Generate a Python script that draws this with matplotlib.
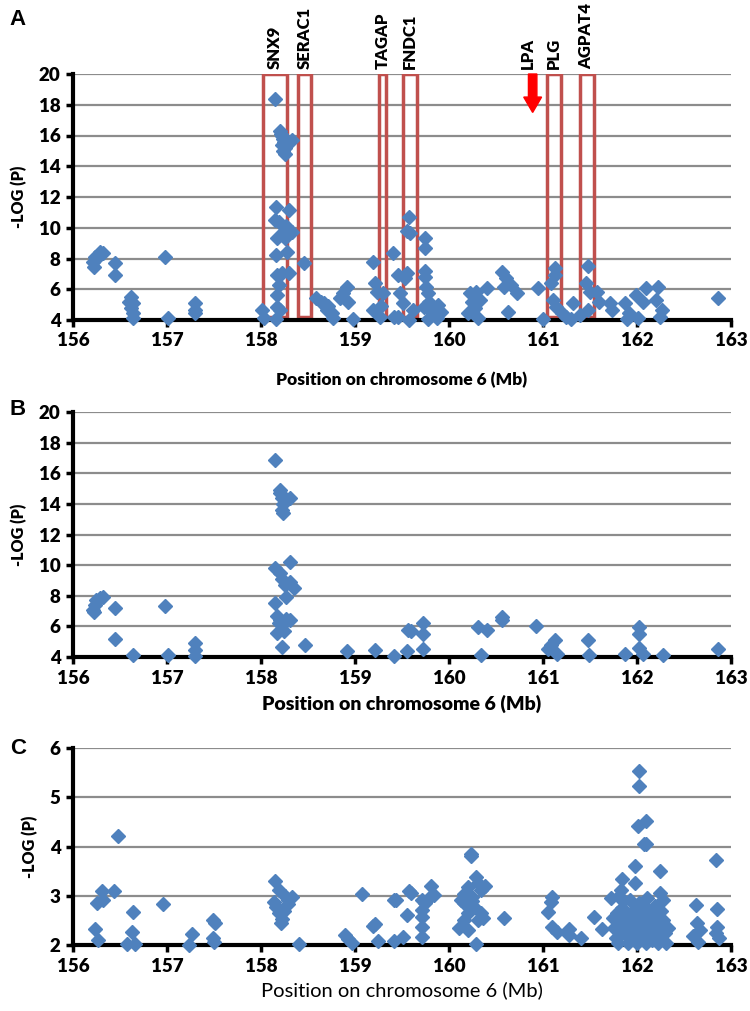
import matplotlib.pyplot as plt
from matplotlib.patches import Rectangle, FancyArrow

# ---- data (Mb, -log P) ----
a_pos = [156.21, 156.22, 156.23, 156.24, 156.29, 156.32, 156.45, 156.45, 156.60, 156.62, 156.62, 156.64,
         156.64, 156.64, 156.98, 157.01, 157.30, 157.30, 157.30,
         158.01, 158.03, 158.16, 158.17, 158.20, 158.17, 158.19, 158.22, 158.17, 158.30, 158.16, 158.28,
         158.17, 158.26, 158.33, 158.19, 158.15, 158.24, 158.27, 158.16, 158.30, 158.15,
         158.20, 158.21, 158.22, 158.23, 158.24, 158.22, 158.25, 158.23, 158.26, 158.33,
         158.46, 158.59, 158.64, 158.67, 158.71, 158.75, 158.77, 158.70, 158.91, 158.87, 158.84, 158.93,
         158.98, 159.19, 159.21, 159.23, 159.19, 159.40, 159.46, 159.42, 159.30, 159.28, 159.27,
         159.57, 159.58, 159.55, 159.74, 159.74, 159.55, 159.53, 159.74, 159.74, 159.76, 159.78, 159.79,
         159.73, 159.83, 159.88, 159.92, 159.87, 159.48, 159.51, 159.46, 159.57, 159.62, 159.78,
         160.22, 160.29, 160.24, 160.33, 160.20, 160.31, 160.28, 160.40,
         160.56, 160.61, 160.66, 160.72, 160.63, 160.59, 160.95, 161.00,
         161.13, 161.13, 161.08, 161.11, 161.14, 161.20, 161.25, 161.32, 161.30, 161.39, 161.48, 161.46,
         161.50, 161.57, 161.60, 161.48, 161.71, 161.73, 161.87, 161.91, 162.01, 161.99, 162.10, 162.06,
         162.22, 162.20, 162.24, 162.27, 161.89, 162.86]
a_val = [7.8, 7.47, 8.12, 8.0, 8.45, 8.34, 7.69, 6.93, 5.2, 5.52, 4.77, 5.09,
         4.43, 4.1, 8.12, 4.1, 5.09, 4.43, 4.65,
         4.65, 4.1, 4.05, 4.87, 4.65, 5.63, 6.28, 7.04, 6.93, 7.04, 8.23, 8.45,
         9.32, 9.32, 9.75, 10.4, 10.5, 9.82, 10.1, 11.34, 11.16, 18.4,
         16.3, 16.1, 16.0, 15.8, 15.6, 15.4, 15.2, 15.0, 14.8, 15.7,
         7.69, 5.41, 5.2, 5.1, 4.9, 4.43, 4.1, 4.65, 6.17, 5.74, 5.4, 5.2,
         4.05, 7.8, 6.4, 5.8, 4.65, 8.34, 6.9, 4.2, 5.74, 4.9, 4.2,
         10.73, 9.65, 9.8, 9.32, 8.67, 7.04, 6.7, 7.2, 6.8, 6.17, 5.74, 5.2,
         4.87, 4.43, 4.98, 4.55, 4.1, 5.74, 5.09, 4.2, 4.0, 4.65, 4.05,
         5.74, 5.85, 5.2, 5.3, 4.43, 4.1, 4.77, 6.06,
         7.15, 6.7, 6.28, 5.74, 4.55, 6.17, 6.06, 4.05,
         7.37, 6.93, 6.4, 5.3, 4.87, 4.43, 4.2, 5.09, 4.05, 4.3, 7.5, 6.4,
         5.85, 5.85, 5.2, 4.65, 5.09, 4.65, 5.09, 4.43, 4.1, 5.63, 6.06, 5.2,
         6.17, 5.3, 4.2, 4.65, 4.05, 5.4]

b_pos = [156.22, 156.23, 156.29, 156.32, 156.24, 156.21, 156.45, 156.45, 156.64, 156.98, 157.01,
         157.30, 157.30, 157.30,
         158.15, 158.20, 158.22, 158.23, 158.22, 158.31, 158.20, 158.23, 158.15, 158.20, 158.22, 158.26,
         158.31, 158.31, 158.35, 158.27, 158.15, 158.17, 158.27, 158.20, 158.26, 158.31, 158.19,
         158.17, 158.24, 158.22, 158.47, 158.91, 159.21, 159.41,
         159.55, 159.56, 159.60, 159.72, 159.72, 159.72, 160.31, 160.34, 160.40, 160.56, 160.56, 160.93,
         161.05, 161.08, 161.13, 161.15, 161.48, 161.49, 161.87, 162.02, 162.02, 162.02, 162.06,
         162.28, 162.86]
b_val = [6.96, 7.4, 7.84, 7.95, 7.7, 7.1, 7.18, 5.16, 4.13, 7.33, 4.13,
         4.93, 4.45, 4.05,
         16.88, 14.9, 14.4, 14.0, 13.6, 14.37, 14.7, 13.4, 9.8, 9.5, 9.1, 8.7,
         8.9, 10.2, 8.5, 7.9, 7.5, 6.7, 6.5, 6.4, 6.3, 6.4, 6.2,
         5.55, 5.7, 4.67, 4.78, 4.36, 4.47, 4.05,
         4.4, 5.76, 5.7, 6.2, 5.5, 4.5, 5.96, 4.1, 5.75, 6.4, 6.6, 6.0,
         4.5, 4.8, 5.1, 4.2, 5.1, 4.1, 4.2, 5.96, 5.5, 4.6, 4.2,
         4.1, 4.5]

c_pos = [156.48, 156.31, 156.25, 156.32, 156.44, 156.23, 156.27, 156.64, 156.63, 156.57, 156.66,
         156.96, 157.27, 157.23, 157.49, 157.51, 157.49, 157.50,
         158.15, 158.19, 158.26, 158.33, 158.29, 158.16, 158.19, 158.22, 158.21, 158.14, 158.24, 158.29,
         158.40, 158.89, 158.97, 158.93, 159.07, 159.21, 159.19, 159.24, 159.41, 159.41,
         159.44, 159.51, 159.55, 159.57, 159.60, 159.71, 159.71, 159.71, 159.71, 159.71, 159.74,
         159.81, 159.84, 159.79,
         160.23, 160.23, 160.29, 160.31, 160.20, 160.16, 160.25, 160.34, 160.38, 160.16, 160.27, 160.20,
         160.34, 160.16, 160.31, 160.11, 160.20, 160.36, 160.29, 160.13, 160.24, 160.59,
         161.10, 161.08, 161.05, 161.10, 161.15, 161.28, 161.28, 161.40, 161.54, 161.63,
         161.72, 161.84, 161.79, 161.83, 161.98, 161.98, 162.07, 162.24, 162.25, 162.28, 161.93, 162.03,
         162.02, 162.02, 162.01, 162.10, 162.10,
         161.75, 161.76, 161.78, 161.80, 161.82, 161.84, 161.86, 161.88, 161.90, 161.92, 161.95,
         161.96, 161.98, 162.00, 162.00, 162.02, 162.03, 162.04, 162.05, 162.06, 162.08, 162.09,
         162.10, 162.12, 162.13, 162.15, 162.16, 162.18, 162.19, 162.21, 162.22, 162.24, 162.25,
         162.26, 162.28, 162.30, 162.31, 162.33, 161.85, 162.11, 161.81,
         162.63, 162.64, 162.60, 162.67, 162.65, 162.84, 162.85, 162.85, 162.87, 162.84]
c_val = [4.22, 3.1, 2.85, 2.92, 3.09, 2.32, 2.1, 2.66, 2.27, 2.03, 2.03,
         2.84, 2.22, 2.0, 2.51, 2.45, 2.14, 2.07,
         3.29, 3.12, 3.0, 2.97, 2.84, 2.78, 2.65, 2.52, 2.45, 2.88, 2.7, 2.92,
         2.03, 2.2, 2.05, 2.13, 3.04, 2.43, 2.38, 2.08, 2.92, 2.08,
         2.92, 2.17, 2.61, 3.09, 3.05, 2.92, 2.71, 2.57, 2.37, 2.16, 2.86,
         3.19, 3.02, 2.95,
         3.84, 3.8, 3.39, 3.26, 3.18, 3.04, 2.98, 3.12, 3.19, 2.86, 2.78, 2.65,
         2.65, 2.51, 2.51, 2.34, 2.3, 2.55, 2.03, 2.92, 2.89, 2.54,
         2.98, 2.88, 2.67, 2.37, 2.27, 2.33, 2.2, 2.14, 2.57, 2.33,
         2.95, 3.33, 2.65, 3.12, 3.61, 3.26, 4.06, 3.5, 3.06, 2.92, 2.92, 2.8,
         5.54, 5.23, 4.41, 4.52, 4.06,
         2.55, 2.35, 2.15, 2.05, 2.45, 2.75, 2.25, 2.6, 2.05, 2.4, 2.15,
         2.7, 2.5, 2.3, 2.05, 2.85, 2.6, 2.15, 2.4, 2.75, 2.2, 2.55,
         2.05, 2.35, 2.7, 2.5, 2.1, 2.3, 2.8, 2.6, 2.05, 2.4, 2.15,
         2.7, 2.5, 2.25, 2.05, 2.35, 2.9, 2.95, 3.0,
         2.82, 2.45, 2.18, 2.31, 2.06, 3.73, 2.73, 2.37, 2.14, 2.25]

genes = ['SNX9', 'SERAC1', 'TAGAP', 'FNDC1', 'PLG', 'AGPAT4']
gene_start = [158.02, 158.39, 159.25, 159.51, 161.04, 161.39]
gene_end = [158.28, 158.53, 159.33, 159.66, 161.19, 161.54]
lpa_pos = 160.89

W, H = 750, 1011
fig = plt.figure(figsize=(W / 100, H / 100), dpi=100)
FONT = ['Lato', 'DejaVu Sans']
blue = '#4F81BD'


def px_axes(x0, y0, x1, y1):
    return fig.add_axes([x0 / W, 1 - y1 / H, (x1 - x0) / W, (y1 - y0) / H])


def style(ax, ymin, ymax, ystep):
    ax.set_xlim(156, 163)
    ax.set_ylim(ymin, ymax)
    ax.set_xticks(range(156, 164))
    ax.set_yticks(range(ymin, ymax + 1, ystep))
    ax.grid(axis='y', color='#8C8C8C', lw=1.6)
    ax.set_axisbelow(True)
    for s in ['top', 'right']:
        ax.spines[s].set_visible(False)
    for s in ['left', 'bottom']:
        ax.spines[s].set_linewidth(3)
        ax.spines[s].set_zorder(2.5)
    ax.tick_params(direction='out', length=5, width=2.5, pad=4)
    for lab in ax.get_xticklabels() + ax.get_yticklabels():
        lab.set_fontfamily(FONT)
        lab.set_fontweight('heavy')
        lab.set_fontsize(13.5)
    ax.set_ylabel('-LOG (P)', family=FONT, weight='heavy', fontsize=11.5, labelpad=8)


def draw_points(ax, xs, ys):
    ax.plot(xs, ys, 'D', color=blue, ms=6.8, mec=blue, clip_on=False, zorder=3)


# ---- panel A ----
axA = px_axes(73, 74, 731, 320)
style(axA, 4, 20, 2)
for g, s, e in zip(genes, gene_start, gene_end):
    axA.add_patch(Rectangle((s, 4.2), e - s, 15.8, fill=False, ec='#C0504D', lw=2.5, zorder=2))
    axA.text((s + e) / 2, 20.3, g, rotation=90, ha='center', va='bottom', family=FONT,
             weight='heavy', fontsize=12, clip_on=False)
axA.text(lpa_pos - 0.05, 20.3, 'LPA', rotation=90, ha='center', va='bottom', family=FONT,
         weight='heavy', fontsize=12, clip_on=False)
axA.add_patch(FancyArrow(lpa_pos, 20, 0, -2.5, width=0.09, head_width=0.19, head_length=1.0,
                         length_includes_head=True, color='#FF0000', zorder=2, clip_on=False))
draw_points(axA, a_pos, a_val)
axA.set_xlabel('Position on chromosome 6 (Mb)', family=FONT, weight='heavy', fontsize=12.5, labelpad=16)

# ---- panel B ----
axB = px_axes(73, 412, 731, 657)
style(axB, 4, 20, 2)
draw_points(axB, b_pos, b_val)
axB.set_xlabel('Position on chromosome 6 (Mb)', family=FONT, weight='heavy', fontsize=14, labelpad=6)

# ---- panel C ----
axC = px_axes(73, 748, 731, 945)
style(axC, 2, 6, 1)
draw_points(axC, c_pos, c_val)
axC.set_xlabel('Position on chromosome 6 (Mb)', family=FONT, fontsize=14.5, labelpad=5)

for letter, y in [('A', 20), ('B', 410), ('C', 748)]:
    fig.text(18 / W, 1 - y / H, letter, family=['Liberation Sans', 'DejaVu Sans'], weight='bold',
             fontsize=16, ha='center', va='center')

fig.savefig('out.png', dpi=100)
